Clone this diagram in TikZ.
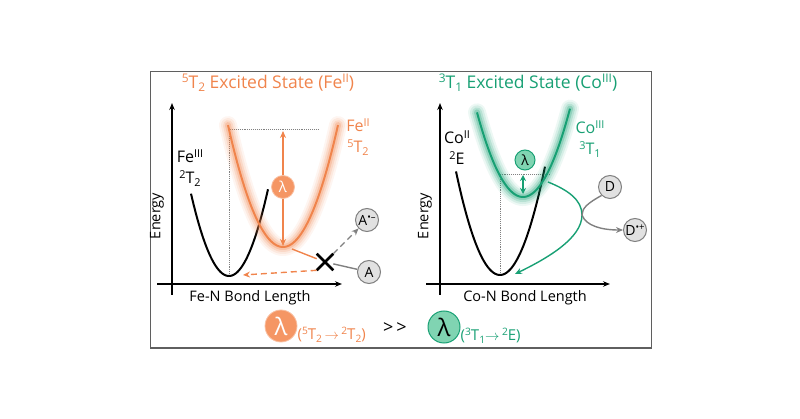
\documentclass[tikz,border=0pt]{standalone}
\usepackage{graphicx}
\usepackage{fontspec}
\setmainfont{Open Sans}
\usetikzlibrary{positioning, shapes.misc, arrows.meta}
\definecolor{feorange}{RGB}{240,132,76}
\definecolor{cogreen}{RGB}{24,160,116}
\definecolor{lamorange}{RGB}{245,150,100}
\definecolor{lamgreen}{RGB}{128,212,178}
\definecolor{boxgray}{RGB}{95,95,95}
\definecolor{ballgray}{RGB}{225,225,225}
% raised / lowered small text that scales with the current font
\newcommand{\hi}[1]{\raisebox{0.6ex}{\scalebox{0.68}{#1}}}
\newcommand{\lo}[1]{\raisebox{-0.35ex}{\scalebox{0.68}{#1}}}

\begin{document}
\begin{tikzpicture}[
        x=1pt, y=-1pt,
        axis/.style = {line width=1.5pt, -{Stealth[length=7pt, width=5.5pt]}},
        axlabel/.style = {font=\fontsize{14.5}{17}\selectfont},
        title/.style = {font=\fontsize{17.5}{21}\selectfont},
        state/.style = {font=\fontsize{16}{21}\selectfont, align=center, inner sep=1pt},
        well/.style = {line width=2pt},
        guide/.style = {densely dotted, gray, line width=0.9pt},
        ball/.style = {circle, draw=gray, fill=ballgray, line width=1pt, minimum size=23pt, inner sep=0pt, font=\fontsize{14}{16}\selectfont},
        lamfe/.style = {circle, fill=lamorange, draw=lamorange!60!white, thick, text=white, minimum size=23pt, inner sep=0pt, font=\fontsize{15}{17}\selectfont},
        lamco/.style = {circle, fill=lamgreen, draw=cogreen, line width=1pt, text=black, minimum size=20pt, inner sep=0pt, font=\fontsize{14}{16}\selectfont},
        arrow/.style = {line width=1.4pt, -{Stealth[length=7pt, width=6pt]}},
        bidi/.style = {line width=1.4pt, {Stealth[length=6pt, width=6pt]}-{Stealth[length=6pt, width=6pt]}},
        longdash/.style = {dash pattern=on 6pt off 4pt}
    ]

    \useasboundingbox (0,0) rectangle (800,419);
    \draw[boxgray, line width=1pt] (150,72) rectangle (651,348);

    % --- LEFT PANEL: Fe ---

    \node[title, text=feorange] (titleFe) at (268,83) {\hi{5}T\lo{2} Excited State (Fe\hi{II})};

    \draw[axis] (172,295) -- (172,103);
    \draw[axis] (157,284) -- (342,284);
    \node[axlabel, rotate=90] (energyFe) at (157,216) {Energy};
    \node[axlabel] (bondFe) at (250,298) {Fe-N Bond Length};

    \coordinate (feGsMin) at (229,276);
    \coordinate (feTopL) at (229,129);
    \coordinate (feTopR) at (318,129);
    \draw[guide] (feGsMin) -- (feTopL) -- (feTopR);

    % ground state 2T2
    \draw[well] plot[domain=191:268, samples=60] ({\x}, {276-0.057*(\x-229)^2});

    % excited state 5T2 with glow
    \foreach \w/\o in {18/0.08, 14/0.11, 10/0.16, 6/0.25}
        \draw[feorange, line width=\w pt, opacity=\o, line cap=round] plot[domain=228:338, samples=60] ({\x}, {247-0.0403*(\x-283)^2});
    \draw[feorange, well] plot[domain=228:338, samples=60] ({\x}, {247-0.0403*(\x-283)^2});

    \node[state, text=feorange] (feII) at (358,137) {Fe\hi{II}\\\hi{5}T\lo{2}};
    \node[state] (feIII) at (190,168) {Fe\hi{III}\\\hi{2}T\lo{2}};

    % excitation arrow
    \coordinate (feExTop) at (283,131);
    \coordinate (feExMin) at (283,246);
    \node[lamfe] (lamFe) at (283,187) {λ};
    \draw[arrow, feorange] (lamFe) -- (feExTop);
    \draw[arrow, feorange] (lamFe) -- (feExMin);

    % electron transfer to A (blocked)
    \node[cross out, draw, line width=2.6pt, minimum size=14pt, inner sep=0pt] (cross) at (325,262) {};
    \node[ball] (accA) at (369,272) {A};
    \node[ball] (accAm) at (367,220) {A\hi{•–}};
    \coordinate (feExEnd) at (292,249);
    \coordinate (feGsEnd) at (243,275);
    \draw[feorange, line width=1.4pt] (feExEnd) -- (cross);
    \draw[gray, line width=1.4pt] (cross) -- (accA);
    \draw[arrow, gray, longdash] (cross.north east) -- (accAm.south west);
    \draw[arrow, feorange, longdash] (cross.south west) -- (feGsEnd);

    % --- RIGHT PANEL: Co ---

    \node[title, text=cogreen] (titleCo) at (528,83) {\hi{3}T\lo{1} Excited State (Co\hi{III})};

    \draw[axis] (440,295) -- (440,103);
    \draw[axis] (426,284) -- (610,284);
    \node[axlabel, rotate=90] (energyCo) at (425,216) {Energy};
    \node[axlabel] (bondCo) at (525,298) {Co-N Bond Length};

    \coordinate (coGsMin) at (500,275);
    \coordinate (coTopL) at (500,174);
    \coordinate (coTopR) at (550,174);
    \draw[guide] (coGsMin) -- (coTopL) -- (coTopR);

    % ground state 2E
    \draw[well] plot[domain=456:545, samples=60] ({\x}, {275-0.0535*(\x-500)^2});

    % excited state 3T1 with glow
    \foreach \w/\o in {18/0.08, 14/0.11, 10/0.16, 6/0.25}
        \draw[cogreen, line width=\w pt, opacity=\o, line cap=round] plot[domain=477:570, samples=60] ({\x}, {197-0.04*(\x-523)^2});
    \draw[cogreen, well] plot[domain=477:570, samples=60] ({\x}, {197-0.04*(\x-523)^2});

    \node[state, text=cogreen] (coIII) at (590,139) {Co\hi{III}\\\hi{3}T\lo{1}};
    \node[state] (coII) at (457,148) {Co\hi{II}\\\hi{2}E};

    \node[lamco] (lamCo) at (525,160) {λ};
    \coordinate (coGap1) at (523,175);
    \coordinate (coGap2) at (523,194);
    \draw[bidi, cogreen] (coGap1) -- (coGap2);

    % reductive quenching by D
    \node[ball] (donD) at (610,187) {D};
    \node[ball] (donDp) at (635,230) {D\hi{•+}};
    \coordinate (coExStart) at (548,182);
    \coordinate (coTurn) at (582,215);
    \coordinate (coGsEnd) at (515,274);
    \draw[arrow, cogreen] (coExStart) .. controls (568,190) and (582,200) .. (coTurn)
        .. controls (582,238) and (548,258) .. (coGsEnd);
    \draw[arrow, gray] (donD.south west) .. controls (588,203) and (582,208) .. (coTurn)
        .. controls (586,226) and (602,230) .. (donDp.west);

    % --- BOTTOM: comparison ---

    \node[lamfe, minimum size=32pt, font=\fontsize{24}{26}\selectfont] (lamBigFe) at (281,326) {λ};
    \node[text=feorange, font=\fontsize{15}{17}\selectfont, anchor=west, inner sep=0pt] (lamFeSub) at ([yshift=-9pt]lamBigFe.east) {(\hi{5}T\lo{2}\,$\rightarrow$\,\hi{2}T\lo{2})};
    \node[font=\fontsize{18}{20}\selectfont] (gg) at (395,328) {>\,>};
    \node[lamco, minimum size=32pt, font=\fontsize{24}{26}\selectfont] (lamBigCo) at (444,327) {λ};
    \node[text=cogreen, font=\fontsize{15}{17}\selectfont, anchor=west, inner sep=0pt] (lamCoSub) at ([yshift=-9pt]lamBigCo.east) {(\hi{3}T\lo{1}$\rightarrow$\,\hi{2}E)};

\end{tikzpicture}
\end{document}
